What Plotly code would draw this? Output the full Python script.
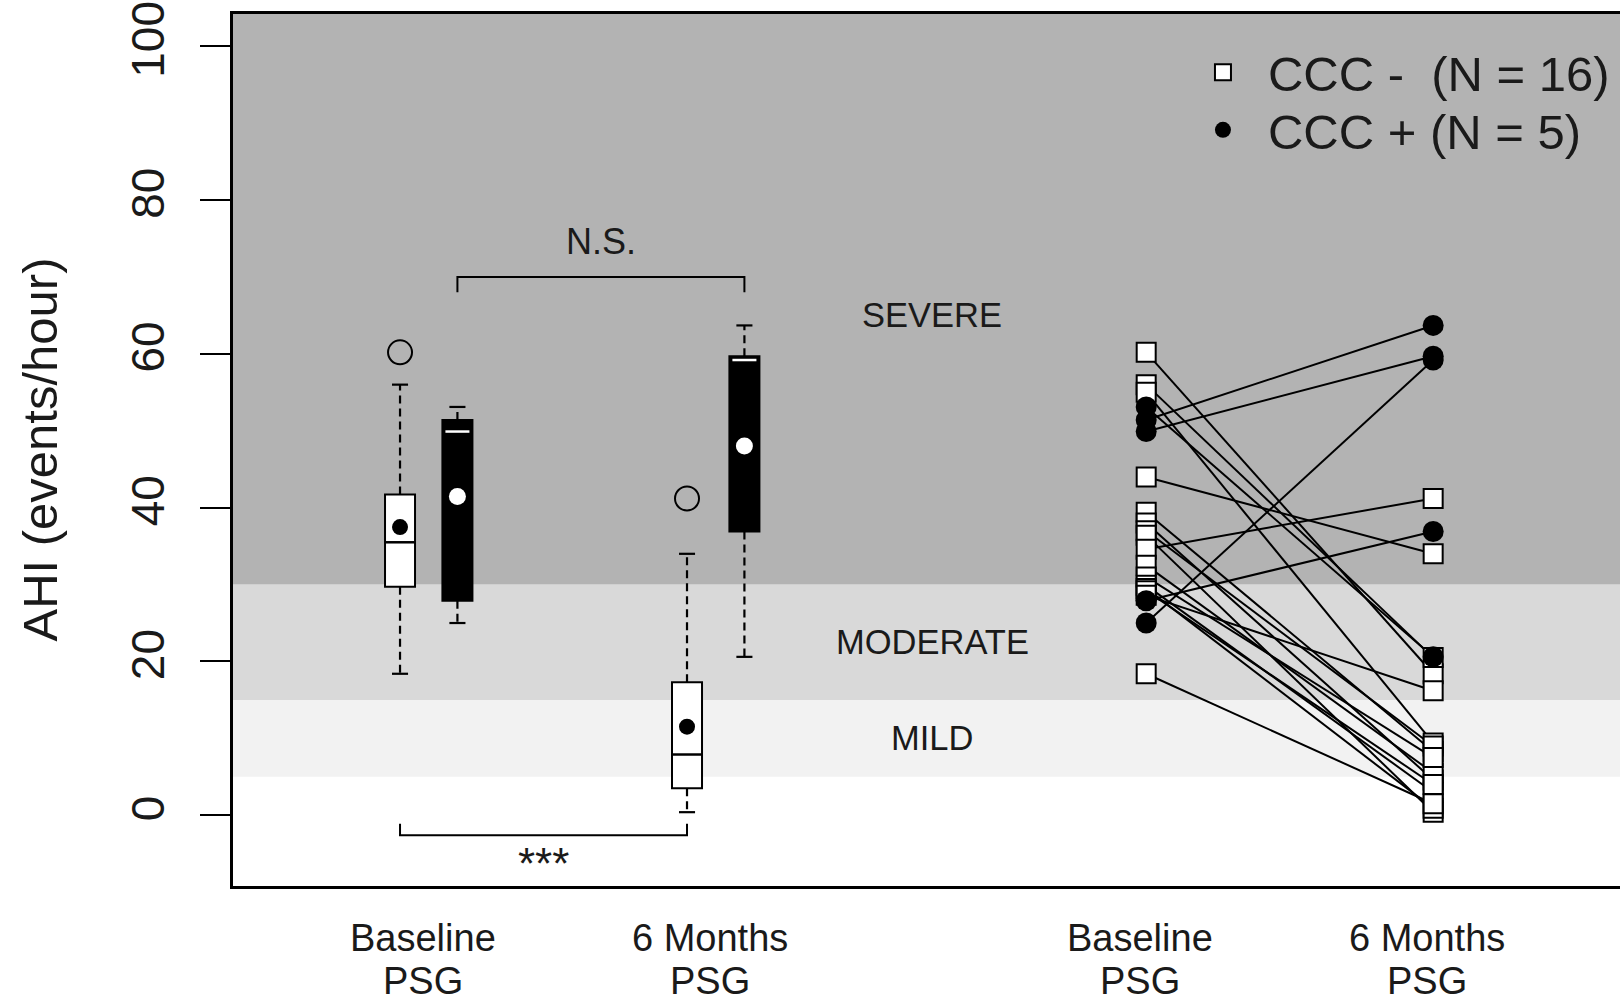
import math
import plotly.graph_objects as go

# ---------------- data ----------------
time_points = ["Baseline", "6 Months"]
# paired AHI values, CCC negative (N = 16), same patient order in both lists
ccc_neg_baseline = [60.2, 56.0, 55.0, 44.0, 39.4, 38.0, 37.0, 36.4,
                    34.6, 32.5, 31.0, 29.9, 29.5, 29.2, 28.6, 18.4]
ccc_neg_6m = [18.4, 20.5, 9.4, 34.0, 8.3, 4.6, 9.0, 0.4,
              41.2, 5.5, 7.5, 3.0, 0.9, 4.0, 16.2, 1.5]
# paired AHI values, CCC positive (N = 5)
ccc_pos_baseline = [53.1, 51.4, 49.9, 27.9, 25.0]
ccc_pos_6m = [20.6, 63.7, 59.7, 36.9, 59.2]

severity_edges = [5, 15, 30, 100]
severity_labels = ["MILD", "MODERATE", "SEVERE"]
severity_colors = ["#F2F2F2", "#D9D9D9", "#B3B3B3"]
y_ticks = [0, 20, 40, 60, 80, 100]
legend_labels = ["CCC -\u00a0 (N = 16)", "CCC + (N = 5)"]
x_labels = ["Baseline<br>PSG", "6 Months<br>PSG", "Baseline<br>PSG", "6 Months<br>PSG"]

# ---------------- layout constants ----------------
Y_RANGE = [-9.2, 104.2]
X_RANGE = [0.418, 5.251]
BOX_POS = {"neg_base": 1.0, "pos_base": 1.2, "neg_6m": 2.0, "pos_6m": 2.2}
PAIR_X = [3.6, 4.6]
LABEL_X = [1.08, 2.08, 3.58, 4.58]
BOX_HW = 0.0523
CAP_HW = 0.028
BAND_LABEL_X = 2.855
FONT = "Liberation Sans, Arial, Helvetica, sans-serif"
TXT = "#1a1a1a"


def fivenum(v):
    x = sorted(v)
    n = len(x)
    n4 = math.floor((n + 3) / 2) / 2
    d = [1, n4, (n + 1) / 2, n + 1 - n4, n]
    return [0.5 * (x[math.floor(di) - 1] + x[math.ceil(di) - 1]) for di in d]


def box_stats(v, coef=1.5):
    st = fivenum(v)
    iqr = st[3] - st[1]
    lo, hi = st[1] - coef * iqr, st[3] + coef * iqr
    out = [a for a in v if a < lo or a > hi]
    inside = [a for a in v if lo <= a <= hi]
    st[0], st[4] = min(inside), max(inside)
    return st, out


fig = go.Figure()

# severity bands
tops = severity_edges[1:-1] + [Y_RANGE[1]]
for lo, hi, col in zip(severity_edges[:-1], tops, severity_colors):
    fig.add_shape(type="rect", xref="paper", x0=0, x1=1, yref="y", y0=lo, y1=hi,
                  fillcolor=col, line_width=0, layer="below")


def add_box(values, x, fill, med_color, mean_color, med_scale, mean_size):
    st, out = box_stats(values)
    mean = sum(values) / len(values)
    fig.add_trace(go.Bar(x=[x], y=[st[3] - st[1]], base=[st[1]], width=2 * BOX_HW,
                         marker=dict(color=fill, line=dict(color="black", width=2)),
                         showlegend=False, hoverinfo="skip"))
    fig.add_trace(go.Scatter(x=[x, x, None, x, x], y=[st[3], st[4], None, st[1], st[0]],
                             mode="lines", line=dict(color="black", width=2.2, dash="8px,5px"),
                             showlegend=False, hoverinfo="skip"))
    fig.add_trace(go.Scatter(x=[x - CAP_HW, x + CAP_HW, None, x - CAP_HW, x + CAP_HW],
                             y=[st[4], st[4], None, st[0], st[0]], mode="lines",
                             line=dict(color="black", width=2.2), showlegend=False, hoverinfo="skip"))
    hw = BOX_HW * med_scale
    fig.add_trace(go.Scatter(x=[x - hw, x + hw], y=[st[2], st[2]], mode="lines",
                             line=dict(color=med_color, width=2.5), showlegend=False, hoverinfo="skip"))
    fig.add_trace(go.Scatter(x=[x], y=[mean], mode="markers",
                             marker=dict(color=mean_color, size=mean_size, line=dict(width=0)),
                             showlegend=False, hoverinfo="skip"))
    if out:
        fig.add_trace(go.Scatter(x=[x] * len(out), y=out, mode="markers",
                                 marker=dict(symbol="circle-open", size=24, color="black",
                                             line=dict(width=2)),
                                 showlegend=False, hoverinfo="skip"))


add_box(ccc_neg_baseline, BOX_POS["neg_base"], "white", "black", "black", 1.0, 16)
add_box(ccc_pos_baseline, BOX_POS["pos_base"], "black", "white", "white", 0.8, 17)
add_box(ccc_neg_6m, BOX_POS["neg_6m"], "white", "black", "black", 1.0, 16)
add_box(ccc_pos_6m, BOX_POS["pos_6m"], "black", "white", "white", 0.8, 17)

# significance brackets
fig.add_trace(go.Scatter(
    x=[BOX_POS["pos_base"], BOX_POS["pos_base"], BOX_POS["pos_6m"], BOX_POS["pos_6m"]],
    y=[68, 70, 70, 68], mode="lines", line=dict(color="black", width=2),
    showlegend=False, hoverinfo="skip"))
fig.add_trace(go.Scatter(
    x=[BOX_POS["neg_base"], BOX_POS["neg_base"], BOX_POS["neg_6m"], BOX_POS["neg_6m"]],
    y=[-1.1, -2.6, -2.6, -1.1], mode="lines", line=dict(color="black", width=2),
    showlegend=False, hoverinfo="skip"))

# paired lines
lx, ly = [], []
for b, m in list(zip(ccc_neg_baseline, ccc_neg_6m)) + list(zip(ccc_pos_baseline, ccc_pos_6m)):
    lx += [PAIR_X[0], PAIR_X[1], None]
    ly += [b, m, None]
fig.add_trace(go.Scatter(x=lx, y=ly, mode="lines", line=dict(color="black", width=2),
                         showlegend=False, hoverinfo="skip"))

fig.add_trace(go.Scatter(
    x=[PAIR_X[0]] * len(ccc_neg_baseline) + [PAIR_X[1]] * len(ccc_neg_6m),
    y=ccc_neg_baseline + ccc_neg_6m, mode="markers", name=legend_labels[0],
    marker=dict(symbol="square", size=19, color="white", line=dict(color="black", width=2)),
    legend="legend", hoverinfo="y"))
fig.add_trace(go.Scatter(
    x=[PAIR_X[0]] * len(ccc_pos_baseline) + [PAIR_X[1]] * len(ccc_pos_6m),
    y=ccc_pos_baseline + ccc_pos_6m, mode="markers", name=legend_labels[1],
    marker=dict(symbol="circle", size=21, color="black", line=dict(width=0)),
    legend="legend2", hoverinfo="y"))

annotations = []
for i, lab in enumerate(severity_labels):
    top = severity_edges[i + 1]
    annotations.append(dict(x=BAND_LABEL_X, y=(severity_edges[i] + top) / 2, xref="x", yref="y",
                            text=lab, showarrow=False, font=dict(size=34.5, color=TXT)))
annotations.append(dict(x=(BOX_POS["pos_base"] + BOX_POS["pos_6m"]) / 2, y=74.6, xref="x", yref="y",
                        text="N.S.", showarrow=False, font=dict(size=36, color=TXT)))
annotations.append(dict(x=(BOX_POS["neg_base"] + BOX_POS["neg_6m"]) / 2, y=-6.3, xref="x", yref="y",
                        text="***", showarrow=False, font=dict(size=44, color=TXT)))
for xl, lab in zip(LABEL_X, x_labels):
    l1, l2 = lab.split("<br>")
    annotations.append(dict(x=xl, y=-0.0596, xref="x", yref="paper", text=l1, showarrow=False,
                            yanchor="middle", font=dict(size=38, color=TXT)))
    annotations.append(dict(x=xl, y=-0.1085, xref="x", yref="paper", text=l2, showarrow=False,
                            yanchor="middle", font=dict(size=38, color=TXT)))
annotations.append(dict(x=-0.1395, y=0.5, xref="paper", yref="paper", text="AHI (events/hour)",
                        textangle=-90, showarrow=False, xanchor="center", yanchor="middle",
                        font=dict(size=49, color=TXT)))

leg_common = dict(xanchor="left", yanchor="middle", font=dict(size=49, color=TXT, family=FONT),
                  bgcolor="rgba(0,0,0,0)", itemwidth=80)
fig.update_layout(
    width=1620, height=1002,
    margin=dict(l=233, r=0, t=14, b=116),
    paper_bgcolor="white", plot_bgcolor="white",
    barmode="overlay",
    font=dict(family=FONT, color=TXT),
    xaxis=dict(range=X_RANGE, showline=True, linecolor="black", linewidth=2.5, mirror=True,
               showgrid=False, zeroline=False, showticklabels=False, ticks=""),
    yaxis=dict(range=Y_RANGE, tickvals=y_ticks, ticks="outside", ticklen=30, tickwidth=2,
               tickcolor="black", tickangle=-90, tickfont=dict(size=46, color=TXT),
               showline=True, linecolor="black", linewidth=2.5, showgrid=False, zeroline=False,
               ticklabelstandoff=18),
    legend=dict(x=0.6813, y=0.933, **leg_common),
    legend2=dict(x=0.6813, y=0.867, **leg_common),
    annotations=annotations,
    showlegend=True,
)

fig.write_html("out.html", config={"displayModeBar": False},
               post_script="document.body.style.margin='0';document.body.style.overflow='hidden';")
